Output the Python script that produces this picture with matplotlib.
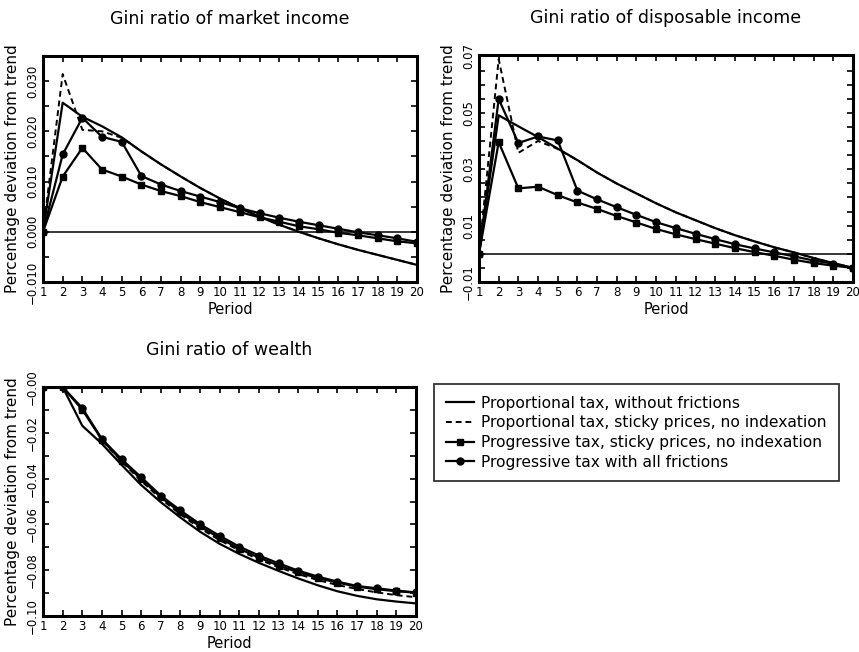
import numpy as np
import matplotlib.pyplot as plt
from matplotlib.ticker import FixedLocator, FixedFormatter, MultipleLocator

# Data
periods = np.arange(1, 21)

labels = ["Proportional tax, without frictions",
          "Proportional tax, sticky prices, no indexation",
          "Progressive tax, sticky prices, no indexation",
          "Progressive tax with all frictions"]

# Gini ratio of market income
mkt_prop = [0.0, 0.0257, 0.0229, 0.0210, 0.0188, 0.0160, 0.0134, 0.0110, 0.0087, 0.0066,
            0.0047, 0.0030, 0.0014, 0.0000, -0.0013, -0.0025, -0.0036, -0.0046, -0.0056, -0.0066]
mkt_sticky = [0.0, 0.0314, 0.0203, 0.0200, 0.0187, 0.0160, 0.0134, 0.0110, 0.0087, 0.0066,
              0.0047, 0.0030, 0.0014, 0.0000, -0.0013, -0.0025, -0.0036, -0.0046, -0.0056, -0.0066]
mkt_prog = [0.0, 0.0110, 0.0167, 0.0124, 0.0110, 0.0094, 0.0081, 0.0071, 0.0059, 0.0049,
            0.0039, 0.0029, 0.0020, 0.0011, 0.0005, -0.0002, -0.0007, -0.0013, -0.0019, -0.0023]
mkt_all = [0.0, 0.0154, 0.0227, 0.0189, 0.0179, 0.0111, 0.0094, 0.0081, 0.0070, 0.0059,
           0.0047, 0.0037, 0.0028, 0.0020, 0.0013, 0.0006, -0.0001, -0.0007, -0.0013, -0.0020]

# Gini ratio of disposable income
disp_prop = [0.0, 0.0491, 0.0452, 0.0414, 0.0373, 0.0332, 0.0288, 0.0249, 0.0214, 0.0179,
             0.0147, 0.0119, 0.0091, 0.0066, 0.0044, 0.0023, 0.0005, -0.0015, -0.0033, -0.0050]
disp_sticky = [0.0, 0.0690, 0.0358, 0.0400, 0.0372, 0.0332, 0.0288, 0.0249, 0.0214, 0.0179,
               0.0147, 0.0119, 0.0091, 0.0066, 0.0044, 0.0023, 0.0005, -0.0015, -0.0033, -0.0050]
disp_prog = [0.0, 0.0396, 0.0232, 0.0238, 0.0208, 0.0182, 0.0159, 0.0134, 0.0111, 0.0088,
             0.0069, 0.0052, 0.0036, 0.0020, 0.0006, -0.0007, -0.0021, -0.0033, -0.0042, -0.0050]
disp_all = [0.0, 0.0549, 0.0393, 0.0416, 0.0402, 0.0224, 0.0193, 0.0165, 0.0138, 0.0112,
            0.0091, 0.0071, 0.0052, 0.0034, 0.0019, 0.0005, -0.0009, -0.0024, -0.0035, -0.0050]

# Gini ratio of wealth
wlth_prop = [0.0, 0.0, -0.0169, -0.0248, -0.0340, -0.0428, -0.0503, -0.0570, -0.0632, -0.0685,
             -0.0729, -0.0768, -0.0803, -0.0836, -0.0866, -0.0892, -0.0912, -0.0927, -0.0937, -0.0945]
wlth_sticky = [0.0, 0.0, -0.0095, -0.0232, -0.0325, -0.0410, -0.0488, -0.0556, -0.0617, -0.0669,
               -0.0714, -0.0753, -0.0787, -0.0817, -0.0843, -0.0865, -0.0882, -0.0897, -0.0909, -0.0918]
wlth_prog = [0.0, 0.0, -0.0099, -0.0230, -0.0321, -0.0402, -0.0481, -0.0548, -0.0609, -0.0660,
             -0.0707, -0.0745, -0.0780, -0.0809, -0.0835, -0.0854, -0.0872, -0.0883, -0.0892, -0.0898]
wlth_all = [0.0, 0.0, -0.0092, -0.0227, -0.0315, -0.0394, -0.0474, -0.0539, -0.0599, -0.0650,
            -0.0697, -0.0736, -0.0770, -0.0802, -0.0828, -0.0850, -0.0869, -0.0879, -0.0889, -0.0897]

# Labelled y ticks per panel
mkt_ticks = [-0.010, 0.000, 0.010, 0.020, 0.030]
mkt_ticklabels = ["\u22120.010", "0.000", "0.010", "0.020", "0.030"]
disp_ticks = [-0.01, 0.01, 0.03, 0.05, 0.07]
disp_ticklabels = ["\u22120.01", "0.01", "0.03", "0.05", "0.07"]
wlth_ticks = [-0.10, -0.08, -0.06, -0.04, -0.02, 0.00]
wlth_ticklabels = ["\u22120.10", "\u22120.08", "\u22120.06", "\u22120.04", "\u22120.02", "\u22120.00"]

plt.rcParams['font.family'] = 'DejaVu Sans'
fig = plt.figure(figsize=(8.59, 6.52), dpi=100)

W, H = 859, 652
def add_ax(left, top, right, bottom):
    return fig.add_axes([left / W, 1 - bottom / H, (right - left) / W, (bottom - top) / H])

ax1 = add_ax(43, 56, 417, 282)
ax2 = add_ax(479, 55, 853, 282)
ax3 = add_ax(43, 387, 416, 616)

panels = [
    (ax1, "Gini ratio of market income", (mkt_prop, mkt_sticky, mkt_prog, mkt_all),
     (-0.010, 0.035), mkt_ticks, mkt_ticklabels, 0.005, True),
    (ax2, "Gini ratio of disposable income", (disp_prop, disp_sticky, disp_prog, disp_all),
     (-0.010, 0.0705), disp_ticks, disp_ticklabels, 0.005, True),
    (ax3, "Gini ratio of wealth", (wlth_prop, wlth_sticky, wlth_prog, wlth_all),
     (-0.100, 0.000), wlth_ticks, wlth_ticklabels, 0.01, False),
]

handles = []
for ax, title, series, ylim, ticks, ticklabels, step, zero_line in panels:
    prop, sticky, prog, allf = series
    if zero_line:
        ax.axhline(0.0, color='black', lw=1.1, zorder=1)
    h1, = ax.plot(periods, prop, color='black', lw=1.6)
    h2, = ax.plot(periods, sticky, color='black', lw=1.4, ls=(0, (3, 2)))
    h3, = ax.plot(periods, prog, color='black', lw=1.6, marker='s', ms=5)
    h4, = ax.plot(periods, allf, color='black', lw=1.6, marker='o', ms=5)
    handles = [h1, h2, h3, h4]

    ax.set_xlim(1, 20)
    ax.set_ylim(*ylim)
    ax.set_xticks(periods)
    ax.yaxis.set_major_locator(FixedLocator(ticks))
    ax.yaxis.set_major_formatter(FixedFormatter(ticklabels))
    ax.yaxis.set_minor_locator(MultipleLocator(step))
    ax.tick_params(axis='both', which='both', direction='in', top=True, right=True,
                   length=4, width=1.2, labelsize=8.5, pad=3)
    for lab in ax.get_yticklabels():
        lab.set_rotation(90)
        lab.set_va('center')
    for sp in ax.spines.values():
        sp.set_linewidth(2.2)
    ax.set_title(title, fontsize=12.5, pad=23)
    ax.set_xlabel("Period", fontsize=10.5, labelpad=2)
    ax.set_ylabel("Percentage deviation from trend", fontsize=11, labelpad=4)

leg = fig.legend(handles, labels, loc='upper left',
                 bbox_to_anchor=(434 / W, 1 - 384 / H), fontsize=11.2,
                 frameon=True, fancybox=False, handlelength=1.8, borderaxespad=0,
                 borderpad=0.75, labelspacing=0.3, handletextpad=0.5)
leg.get_frame().set_edgecolor('black')
leg.get_frame().set_linewidth(1.3)

fig.savefig("out.png", dpi=100)
